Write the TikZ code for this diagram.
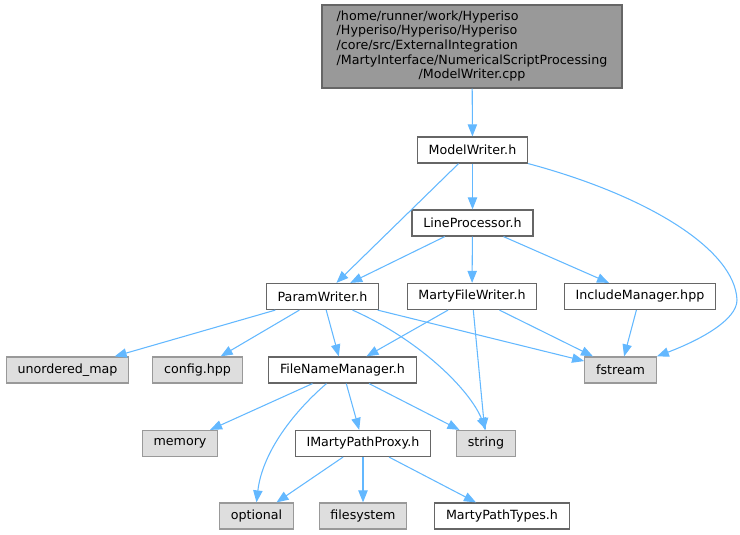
\documentclass[tikz,border=0pt]{standalone}
\usepackage{fontspec}
\setmainfont{DejaVu Sans}
\usetikzlibrary{arrows.meta}
\definecolor{edgeblue}{HTML}{63B8FF}
\definecolor{boxline}{HTML}{666666}
\definecolor{sysline}{HTML}{999999}
\definecolor{sysfill}{HTML}{DEDEDE}
\definecolor{rootfill}{HTML}{999999}
\tikzset {
  file node/.style = {
    draw = boxline,
    line width = 0.9pt,
    rectangle,
    minimum height = 19.5pt,
    inner xsep = 8.5pt,
    font = \fontsize{9.5}{11}\selectfont
  },
  % header of the project
  local/.style = {
    file node,
    fill = white
  },
  % header from outside the project
  system/.style = {
    file node,
    draw = sysline,
    fill = sysfill
  },
  % the source file itself
  root/.style = {
    file node,
    fill = rootfill,
    minimum width = 225pt,
    minimum height = 62.25pt
  }
}
\tikzset {
  incl/.style = {
    draw = edgeblue,
    line width = 0.8pt,
    -{Triangle[length = 9pt, width = 7pt]}
  }
}
\begin{document}
\begin{tikzpicture}[x=0.75pt, y=-0.75pt]
    \useasboundingbox (0,0) rectangle (740,535);

    \node[root] (cpp) at (472,46.5) {\begin{tabular}{@{}l@{}}
      /home/runner/work/Hyperiso\\
      /Hyperiso/Hyperiso/Hyperiso\\
      /core/src/ExternalIntegration\\
      /MartyInterface/NumericalScriptProcessing\\
      \multicolumn{1}{@{}c@{}}{/ModelWriter.cpp}
    \end{tabular}};
    \node[local] (modelwriter) at (472.5,150) {ModelWriter.h};
    \node[local] (lineproc) at (472.5,223) {LineProcessor.h};
    \node[local] (paramwriter) at (322.5,296.5) {ParamWriter.h};
    \node[local] (filewriter) at (472,296.5) {MartyFileWriter.h};
    \node[local] (inclmanager) at (640,296.5) {IncludeManager.hpp};
    \node[system] (umap) at (67.5,370) {unordered\_map};
    \node[system] (config) at (197.5,370) {config.hpp};
    \node[local] (namemanager) at (342.5,370) {FileNameManager.h};
    \node[system] (fstream) at (620.5,370) {fstream};
    \node[system] (memory) at (180,443.5) {memory};
    \node[local] (pathproxy) at (363,443.5) {IMartyPathProxy.h};
    \node[system] (string) at (486,443.5) {string};
    \node[system] (optional) at (256.5,516) {optional};
    \node[system] (filesystem) at (363,516) {filesystem};
    \node[local] (pathtypes) at (502,516) {MartyPathTypes.h};

    \draw[incl] (cpp) -- (modelwriter);

    \draw[incl] (modelwriter) -- (paramwriter);
    \draw[incl] (modelwriter) -- (lineproc);
    \draw[incl] (modelwriter.south east)
    .. controls (649,196) and (735,250) .. (737,300)
    .. controls (737,320) and (700,340) .. (fstream.north east);

    \draw[incl] (lineproc) -- (paramwriter);
    \draw[incl] (lineproc) -- (filewriter);
    \draw[incl] (lineproc) -- (inclmanager);

    \draw[incl] (paramwriter) -- (umap);
    \draw[incl] (paramwriter) -- (config);
    \draw[incl] (paramwriter) -- (namemanager);
    \draw[incl] (paramwriter.south)+(30,0)
    .. controls (420,340) and (470,390) .. (string.north);
    \draw[incl] (paramwriter) -- (fstream);

    \draw[incl] (filewriter) -- (namemanager);
    \draw[incl] (filewriter) -- (string);
    \draw[incl] (filewriter) -- (fstream);

    \draw[incl] (inclmanager) -- (fstream);

    \draw[incl] (namemanager) -- (memory);
    \draw[incl] (namemanager.south)+(-16,0)
    .. controls (290,415) and (262,455) .. (optional.north);
    \draw[incl] (namemanager) -- (pathproxy);
    \draw[incl] (namemanager) -- (string);

    \draw[incl] (pathproxy) -- (optional);
    \draw[incl] (pathproxy) -- (filesystem);
    \draw[incl] (pathproxy) -- (pathtypes);
  \end{tikzpicture}
\end{document}
